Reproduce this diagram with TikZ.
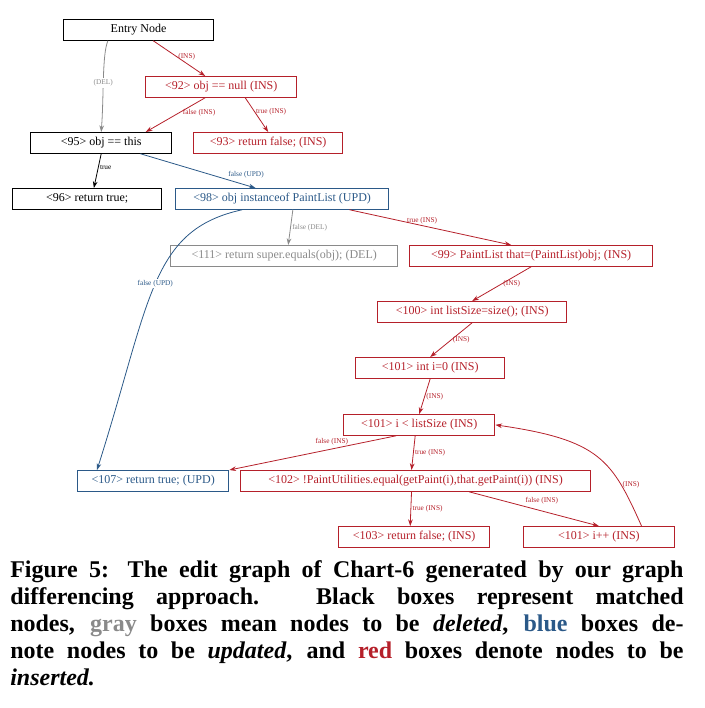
\documentclass[tikz,border=0pt]{standalone}
\usepackage{fontspec}
\setmainfont{Liberation Serif}
\usetikzlibrary{arrows.meta}
\definecolor{ired}{HTML}{B5202A}
\definecolor{ublue}{HTML}{2B5988}
\definecolor{dgray}{HTML}{8A8A8A}
\begin{document}
\begin{tikzpicture}[x=0.75pt,y=-0.75pt,
  box/.style={draw,line width=0.8pt,minimum height=15.5pt,inner sep=1pt,font=\fontsize{9}{10}\selectfont,anchor=north west},
  ins/.style={ired,text=ired},
  upd/.style={ublue,text=ublue},
  del/.style={dgray,text=dgray},
  e/.style={-{Stealth[length=5pt,width=3.5pt]},line width=0.6pt},
  lab/.style={font=\fontsize{5.5}{6}\selectfont,inner sep=1pt}]
\useasboundingbox (0,0) rectangle (705,708);
\node[box,minimum width=112.5pt] (en) at (63,19) {Entry Node};
\node[box,ins,minimum width=113.5pt] (n92) at (145,76) {<92> obj == null (INS)};
\node[box,minimum width=106pt] (n95) at (30,132) {<95> obj == this};
\node[box,ins,minimum width=112pt] (n93) at (193,132) {<93> return false; (INS)};
\node[box,minimum width=112pt] (n96) at (12,188) {<96> return true;};
\node[box,upd,minimum width=160pt] (n98) at (175,188) {<98> obj instanceof PaintList (UPD)};
\node[box,del,minimum width=170.5pt] (n111) at (170,245) {<111> return super.equals(obj); (DEL)};
\node[box,ins,minimum width=182.5pt] (n99) at (409,245) {<99> PaintList that=(PaintList)obj; (INS)};
\node[box,ins,minimum width=142pt] (n100) at (377,301) {<100> int listSize=size(); (INS)};
\node[box,ins,minimum width=112pt] (n101) at (355,357) {<101> int i=0 (INS)};
\node[box,ins,minimum width=113.5pt] (n101b) at (343,414) {<101> i < listSize (INS)};
\node[box,upd,minimum width=113.5pt] (n107) at (77,470) {<107> return true; (UPD)};
\node[box,ins,minimum width=262.5pt] (n102) at (240,470) {<102> !PaintUtilities.equal(getPaint(i),that.getPaint(i)) (INS)};
\node[box,ins,minimum width=113.5pt] (n103) at (338,526) {<103> return false; (INS)};
\node[box,ins,minimum width=113pt] (n104) at (523,526) {<101> i++ (INS)};
% edges
\draw[e,ired] ([xshift=11pt]en.south) -- node[lab,right,text=ired,pos=0.45]{(INS)} ([xshift=-12pt]n92.north);
\draw[e,dgray] ([xshift=-23pt]en.south) .. controls (102,55) and (104,95) .. node[lab,pos=0.55,fill=white,text=dgray]{(DEL)} (n95.north);
\draw[e,ired] ([xshift=-12pt]n92.south) -- node[lab,pos=0.45,right,xshift=2pt,text=ired]{false (INS)} ([xshift=-20pt]n95.north east);
\draw[e,ired] ([xshift=18pt]n92.south) -- node[lab,right,pos=0.4,text=ired]{true (INS)} (n93.north);
\draw[e] (n95.south) -- node[lab,right,pos=0.4]{true} ([xshift=5pt]n96.north);
\draw[e,ublue] ([xshift=-24pt]n95.south east) -- node[lab,above right,pos=0.75,text=ublue]{false (UPD)} ([xshift=-20pt]n98.north);
\draw[e,dgray] ([xshift=8pt]n98.south) -- node[lab,right,text=dgray]{false (DEL)} ([xshift=3pt]n111.north);
\draw[e,ired] ([xshift=-30pt]n98.south east) -- node[lab,above,pos=0.45,text=ired]{true (INS)} ([xshift=-15pt]n99.north);
\draw[e,ublue] ([xshift=-30pt]n98.south) .. controls (150,230) and (151,300) .. node[lab,pos=0.5,fill=white,text=ublue]{false (UPD)} ([xshift=15pt]n107.north west);
\draw[e,ired] (n99.south) -- node[lab,right,text=ired]{(INS)} (n100.north);
\draw[e,ired] (n100.south) -- node[lab,right,text=ired]{(INS)} (n101.north);
\draw[e,ired] (n101.south) -- node[lab,right,text=ired]{(INS)} (n101b.north);
\draw[e,ired] ([xshift=40pt]n101b.south west) -- node[lab,above,pos=0.45,yshift=3pt,xshift=8pt,text=ired]{false (INS)} (n107.north east);
\draw[e,ired] ([xshift=-3pt]n101b.south) -- node[lab,right,text=ired]{true (INS)} ([xshift=-3pt]n102.north);
\draw[e,ired] ([xshift=-3pt]n102.south) -- node[lab,right,text=ired]{true (INS)} ([xshift=-3pt]n103.north);
\draw[e,ired] ([xshift=40pt]n102.south) -- node[lab,above,pos=0.5,yshift=2pt,xshift=6pt,text=ired]{false (INS)} (n104.north);
\draw[e,ired] ([xshift=32pt]n104.north) .. controls (612,460) and (600,440) .. node[lab,pos=0.25,right,text=ired]{(INS)} (n101b.east);
\node[anchor=north west,inner sep=0pt,text width=505pt,align=justify,font=\bfseries\fontsize{18}{20.3}\selectfont] (cap) at (10,560)
{Figure 5: The edit graph of Chart-6 generated by our graph\linebreak differencing approach. Black boxes represent matched\linebreak nodes, \textcolor{dgray}{gray} boxes mean nodes to be \textit{deleted}, \textcolor{ublue}{blue} boxes de-\linebreak note nodes to be \textit{updated}, and \textcolor{ired}{red} boxes denote nodes to be\linebreak \textit{inserted.}};
\end{tikzpicture}
\end{document}
